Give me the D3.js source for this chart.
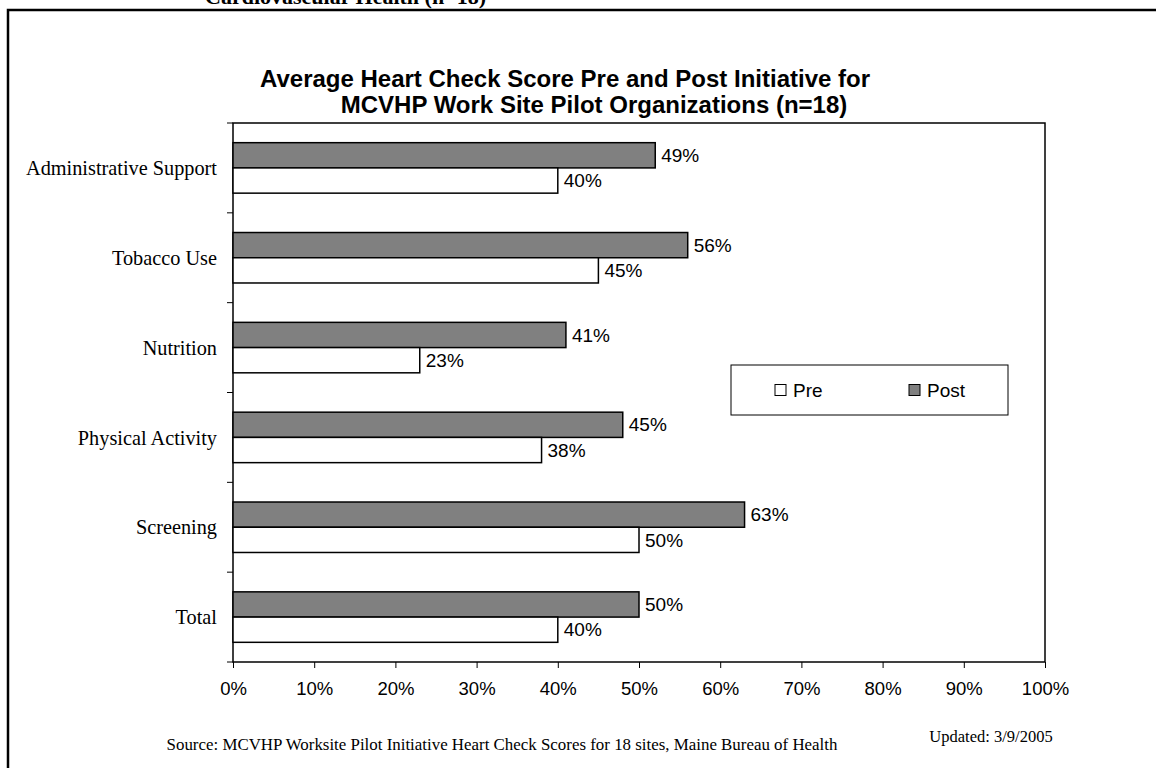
<!DOCTYPE html>
<html>
<head>
<meta charset="utf-8">
<script src="https://cdn.jsdelivr.net/npm/d3@7"></script>
<style>
  body { margin: 0; background: #fff; }
  svg { display: block; }
</style>
</head>
<body>
<script>
// Chart data
const categories = ["Administrative Support", "Tobacco Use", "Nutrition", "Physical Activity", "Screening", "Total"];
const preValues = [40, 45, 23, 38, 50, 40];
const postValues = [52, 56, 41, 48, 63, 50];
const preLabels = ["40%", "45%", "23%", "38%", "50%", "40%"];
const postLabels = ["49%", "56%", "41%", "45%", "63%", "50%"];
const seriesNames = ["Post", "Pre"];
const xTicks = [0, 10, 20, 30, 40, 50, 60, 70, 80, 90, 100];

document.addEventListener("DOMContentLoaded", function() {
    const width = 1156;
    const height = 768;
    const plot = { left: 233, right: 1045, top: 123, bottom: 662 };

    const svg = d3.select("body").append("svg")
        .attr("width", width)
        .attr("height", height);

    // cut-off heading from the page above
    svg.append("text")
        .attr("x", 205)
        .attr("y", 4)
        .attr("font-family", "Liberation Serif")
        .attr("font-weight", "bold")
        .attr("font-size", "22px")
        .text("Cardiovascular Health (n=18)");

    // outer frame
    svg.append("path")
        .attr("d", "M8,770 V10 H1160")
        .attr("fill", "none")
        .attr("stroke", "#000")
        .attr("stroke-width", 2.5);

    // title
    const title = svg.append("text")
        .attr("text-anchor", "middle")
        .attr("font-family", "Liberation Sans")
        .attr("font-weight", "bold")
        .attr("font-size", "24px");
    title.append("tspan").attr("x", 565).attr("y", 87)
        .text("Average Heart Check Score Pre and Post Initiative for");
    title.append("tspan").attr("x", 594).attr("y", 113)
        .text("MCVHP Work Site Pilot Organizations (n=18)");

    // scales
    const x = d3.scaleLinear().domain([0, 100]).range([plot.left, plot.right]);
    const y0 = d3.scaleBand().domain(categories).range([plot.top, plot.bottom]).padding(0);
    const y1 = d3.scaleBand().domain(seriesNames).range([0, y0.bandwidth()])
        .paddingInner(0).paddingOuter(0.78);

    // plot border
    svg.append("rect")
        .attr("x", plot.left)
        .attr("y", plot.top)
        .attr("width", plot.right - plot.left)
        .attr("height", plot.bottom - plot.top)
        .attr("fill", "none")
        .attr("stroke", "#000")
        .attr("stroke-width", 1.5);

    // category ticks on the left axis
    const yBounds = categories.map(c => y0(c)).concat([plot.bottom]);
    svg.append("g").selectAll("line").data(yBounds).join("line")
        .attr("x1", plot.left - 6).attr("x2", plot.left)
        .attr("y1", d => d).attr("y2", d => d)
        .attr("stroke", "#000").attr("stroke-width", 1);

    // x axis
    const xAxis = d3.axisBottom(x).tickValues(xTicks).tickSize(6).tickPadding(14)
        .tickFormat(d => d + "%");
    const gx = svg.append("g")
        .attr("transform", "translate(0," + plot.bottom + ")")
        .call(xAxis);
    gx.select(".domain").remove();
    gx.selectAll("line").attr("stroke", "#000");
    gx.selectAll("text")
        .attr("font-family", "Liberation Sans")
        .attr("font-size", "18.5px")
        .attr("fill", "#000");

    // category labels
    svg.append("g").selectAll("text").data(categories).join("text")
        .attr("x", plot.left - 16)
        .attr("y", d => y0(d) + y0.bandwidth() / 2)
        .attr("dy", "0.35em")
        .attr("text-anchor", "end")
        .attr("font-family", "Liberation Serif")
        .attr("font-size", "20.3px")
        .text(d => d);

    // bars
    const rows = categories.map((c, i) => ({
        cat: c,
        vals: [
            { s: "Post", v: postValues[i], label: postLabels[i], fill: "#808080" },
            { s: "Pre", v: preValues[i], label: preLabels[i], fill: "#ffffff" }
        ]
    }));

    const groups = svg.append("g").selectAll("g").data(rows).join("g")
        .attr("transform", d => "translate(0," + y0(d.cat) + ")");

    groups.selectAll("rect").data(d => d.vals).join("rect")
        .attr("x", x(0))
        .attr("y", d => y1(d.s))
        .attr("width", d => x(d.v) - x(0))
        .attr("height", y1.bandwidth())
        .attr("fill", d => d.fill)
        .attr("stroke", "#000")
        .attr("stroke-width", 1.5);

    groups.selectAll("text").data(d => d.vals).join("text")
        .attr("x", d => x(d.v) + 6)
        .attr("y", d => y1(d.s) + y1.bandwidth() / 2)
        .attr("dy", "0.35em")
        .attr("font-family", "Liberation Sans")
        .attr("font-size", "19px")
        .text(d => d.label);

    // legend
    const legend = svg.append("g");
    legend.append("rect")
        .attr("x", 731).attr("y", 365)
        .attr("width", 277).attr("height", 50)
        .attr("fill", "#fff")
        .attr("stroke", "#000")
        .attr("stroke-width", 1);
    const legendItems = [
        { name: "Pre", fill: "#ffffff", x: 775 },
        { name: "Post", fill: "#808080", x: 909 }
    ];
    legendItems.forEach(item => {
        legend.append("rect")
            .attr("x", item.x).attr("y", 384.5)
            .attr("width", 11).attr("height", 11)
            .attr("fill", item.fill)
            .attr("stroke", "#000")
            .attr("stroke-width", 1);
        legend.append("text")
            .attr("x", item.x + 18).attr("y", 397)
            .attr("font-family", "Liberation Sans")
            .attr("font-size", "19px")
            .text(item.name);
    });

    // footnotes
    svg.append("text")
        .attr("x", 502).attr("y", 750)
        .attr("text-anchor", "middle")
        .attr("font-family", "Liberation Serif")
        .attr("font-size", "16.9px")
        .text("Source: MCVHP Worksite Pilot Initiative Heart Check Scores for 18 sites, Maine Bureau of Health");

    svg.append("text")
        .attr("x", 991).attr("y", 741.5)
        .attr("text-anchor", "middle")
        .attr("font-family", "Liberation Serif")
        .attr("font-size", "16.5px")
        .text("Updated: 3/9/2005");
});
</script>
</body>
</html>
